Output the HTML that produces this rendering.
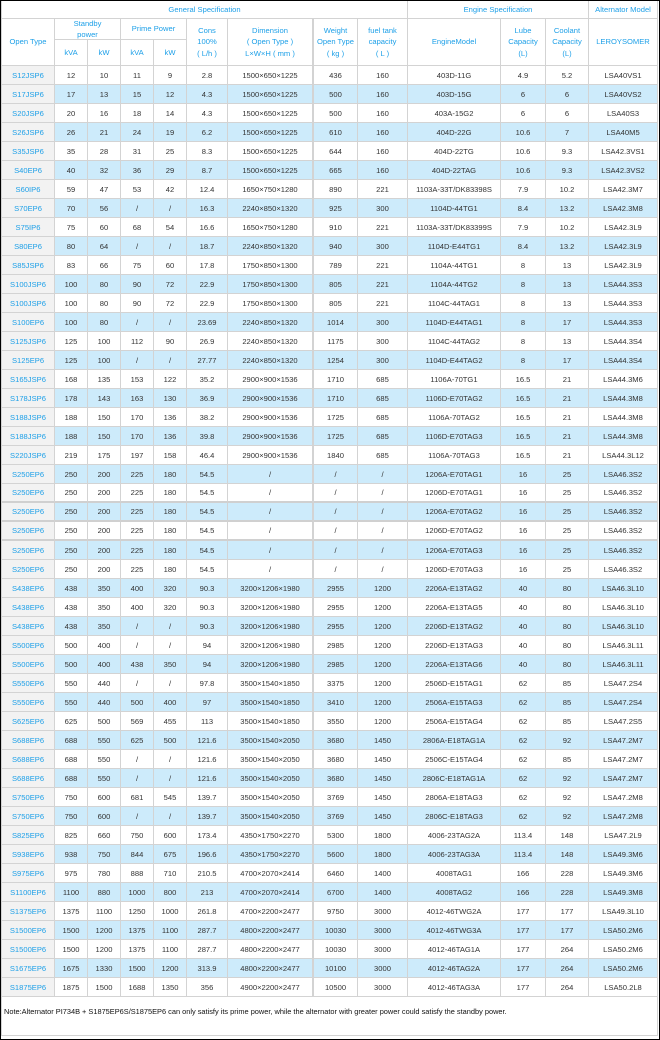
<!DOCTYPE html>
<html><head><meta charset="utf-8"><style>
html,body{margin:0;padding:0;background:#fff}
.o{position:relative;width:660px;height:1040px;box-sizing:border-box;border:1px solid #000;background:#fff;overflow:hidden;font-family:"Liberation Sans",Arial,sans-serif;font-size:7.6px;color:#333}
.g{position:absolute;left:0;top:0;display:grid;grid-template-columns:53px 33px 33px 33px 33px 41px 86px 44px 50px 93px 45px 43px 69px;grid-template-rows:18px 21px 26px repeat(49,19px) 39px;border-left:1px solid #d3d3d3}
.g .r{display:contents}
.g i{font-style:normal;box-sizing:border-box;border-right:1px solid #d3d3d3;border-bottom:1px solid #d3d3d3;display:flex;align-items:center;justify-content:center;text-align:center;white-space:nowrap;overflow:hidden;background:#fff}
.g .b i{background:#cdebfb}
.g .r i:first-child{background:#f2f2f2;color:#1ea0e8}
.g .r i:nth-child(7){border-right:2px solid #d3d3d3}
.g .h{color:#1ea0e8;line-height:11.5px}
.g .h b{font-weight:normal;display:block}
.g .t i{border-bottom:2px solid #d0d0d0}
.g .n{grid-column:1/14;justify-content:flex-start;align-items:flex-start;padding:10px 0 0 2px;color:#111;font-size:7.4px;line-height:9px}
</style></head><body><div class="o"><div class="g">
<i class="h" style="grid-column:1/10;grid-row:1">General Specification</i>
<i class="h" style="grid-column:10/13;grid-row:1">Engine Specification</i>
<i class="h" style="grid-column:13;grid-row:1">Alternator Model</i>
<i class="h" style="grid-column:1;grid-row:2/4">Open Type</i>
<i class="h" style="grid-column:2/4;grid-row:2"><b>Standby<br>power</b></i>
<i class="h" style="grid-column:4/6;grid-row:2">Prime Power</i>
<i class="h" style="grid-column:6;grid-row:2/4"><b>Cons<br>100%<br>( L/h )</b></i>
<i class="h" style="grid-column:7;grid-row:2/4;border-right:2px solid #d3d3d3"><b>Dimension<br>( Open Type )<br>L×W×H ( mm )</b></i>
<i class="h" style="grid-column:8;grid-row:2/4"><b>Weight<br>Open Type<br>( kg )</b></i>
<i class="h" style="grid-column:9;grid-row:2/4"><b>fuel tank<br>capacity<br>( L )</b></i>
<i class="h" style="grid-column:10;grid-row:2/4">EngineModel</i>
<i class="h" style="grid-column:11;grid-row:2/4"><b>Lube<br>Capacity<br>(L)</b></i>
<i class="h" style="grid-column:12;grid-row:2/4"><b>Coolant<br>Capacity<br>(L)</b></i>
<i class="h" style="grid-column:13;grid-row:2/4">LEROYSOMER</i>
<i class="h" style="grid-column:2;grid-row:3">kVA</i>
<i class="h" style="grid-column:3;grid-row:3">kW</i>
<i class="h" style="grid-column:4;grid-row:3">kVA</i>
<i class="h" style="grid-column:5;grid-row:3">kW</i>

<div class="r"><i>S12JSP6</i><i>12</i><i>10</i><i>11</i><i>9</i><i>2.8</i><i>1500×650×1225</i><i>436</i><i>160</i><i>403D-11G</i><i>4.9</i><i>5.2</i><i>LSA40VS1</i></div>
<div class="r b"><i>S17JSP6</i><i>17</i><i>13</i><i>15</i><i>12</i><i>4.3</i><i>1500×650×1225</i><i>500</i><i>160</i><i>403D-15G</i><i>6</i><i>6</i><i>LSA40VS2</i></div>
<div class="r"><i>S20JSP6</i><i>20</i><i>16</i><i>18</i><i>14</i><i>4.3</i><i>1500×650×1225</i><i>500</i><i>160</i><i>403A-15G2</i><i>6</i><i>6</i><i>LSA40S3</i></div>
<div class="r b"><i>S26JSP6</i><i>26</i><i>21</i><i>24</i><i>19</i><i>6.2</i><i>1500×650×1225</i><i>610</i><i>160</i><i>404D-22G</i><i>10.6</i><i>7</i><i>LSA40M5</i></div>
<div class="r"><i>S35JSP6</i><i>35</i><i>28</i><i>31</i><i>25</i><i>8.3</i><i>1500×650×1225</i><i>644</i><i>160</i><i>404D-22TG</i><i>10.6</i><i>9.3</i><i>LSA42.3VS1</i></div>
<div class="r b"><i>S40EP6</i><i>40</i><i>32</i><i>36</i><i>29</i><i>8.7</i><i>1500×650×1225</i><i>665</i><i>160</i><i>404D-22TAG</i><i>10.6</i><i>9.3</i><i>LSA42.3VS2</i></div>
<div class="r"><i>S60IP6</i><i>59</i><i>47</i><i>53</i><i>42</i><i>12.4</i><i>1650×750×1280</i><i>890</i><i>221</i><i>1103A-33T/DK83398S</i><i>7.9</i><i>10.2</i><i>LSA42.3M7</i></div>
<div class="r b"><i>S70EP6</i><i>70</i><i>56</i><i>/</i><i>/</i><i>16.3</i><i>2240×850×1320</i><i>925</i><i>300</i><i>1104D-44TG1</i><i>8.4</i><i>13.2</i><i>LSA42.3M8</i></div>
<div class="r"><i>S75IP6</i><i>75</i><i>60</i><i>68</i><i>54</i><i>16.6</i><i>1650×750×1280</i><i>910</i><i>221</i><i>1103A-33T/DK83399S</i><i>7.9</i><i>10.2</i><i>LSA42.3L9</i></div>
<div class="r b"><i>S80EP6</i><i>80</i><i>64</i><i>/</i><i>/</i><i>18.7</i><i>2240×850×1320</i><i>940</i><i>300</i><i>1104D-E44TG1</i><i>8.4</i><i>13.2</i><i>LSA42.3L9</i></div>
<div class="r"><i>S85JSP6</i><i>83</i><i>66</i><i>75</i><i>60</i><i>17.8</i><i>1750×850×1300</i><i>789</i><i>221</i><i>1104A-44TG1</i><i>8</i><i>13</i><i>LSA42.3L9</i></div>
<div class="r b"><i>S100JSP6</i><i>100</i><i>80</i><i>90</i><i>72</i><i>22.9</i><i>1750×850×1300</i><i>805</i><i>221</i><i>1104A-44TG2</i><i>8</i><i>13</i><i>LSA44.3S3</i></div>
<div class="r"><i>S100JSP6</i><i>100</i><i>80</i><i>90</i><i>72</i><i>22.9</i><i>1750×850×1300</i><i>805</i><i>221</i><i>1104C-44TAG1</i><i>8</i><i>13</i><i>LSA44.3S3</i></div>
<div class="r b"><i>S100EP6</i><i>100</i><i>80</i><i>/</i><i>/</i><i>23.69</i><i>2240×850×1320</i><i>1014</i><i>300</i><i>1104D-E44TAG1</i><i>8</i><i>17</i><i>LSA44.3S3</i></div>
<div class="r"><i>S125JSP6</i><i>125</i><i>100</i><i>112</i><i>90</i><i>26.9</i><i>2240×850×1320</i><i>1175</i><i>300</i><i>1104C-44TAG2</i><i>8</i><i>13</i><i>LSA44.3S4</i></div>
<div class="r b"><i>S125EP6</i><i>125</i><i>100</i><i>/</i><i>/</i><i>27.77</i><i>2240×850×1320</i><i>1254</i><i>300</i><i>1104D-E44TAG2</i><i>8</i><i>17</i><i>LSA44.3S4</i></div>
<div class="r"><i>S165JSP6</i><i>168</i><i>135</i><i>153</i><i>122</i><i>35.2</i><i>2900×900×1536</i><i>1710</i><i>685</i><i>1106A-70TG1</i><i>16.5</i><i>21</i><i>LSA44.3M6</i></div>
<div class="r b"><i>S178JSP6</i><i>178</i><i>143</i><i>163</i><i>130</i><i>36.9</i><i>2900×900×1536</i><i>1710</i><i>685</i><i>1106D-E70TAG2</i><i>16.5</i><i>21</i><i>LSA44.3M8</i></div>
<div class="r"><i>S188JSP6</i><i>188</i><i>150</i><i>170</i><i>136</i><i>38.2</i><i>2900×900×1536</i><i>1725</i><i>685</i><i>1106A-70TAG2</i><i>16.5</i><i>21</i><i>LSA44.3M8</i></div>
<div class="r b"><i>S188JSP6</i><i>188</i><i>150</i><i>170</i><i>136</i><i>39.8</i><i>2900×900×1536</i><i>1725</i><i>685</i><i>1106D-E70TAG3</i><i>16.5</i><i>21</i><i>LSA44.3M8</i></div>
<div class="r"><i>S220JSP6</i><i>219</i><i>175</i><i>197</i><i>158</i><i>46.4</i><i>2900×900×1536</i><i>1840</i><i>685</i><i>1106A-70TAG3</i><i>16.5</i><i>21</i><i>LSA44.3L12</i></div>
<div class="r b"><i>S250EP6</i><i>250</i><i>200</i><i>225</i><i>180</i><i>54.5</i><i>/</i><i>/</i><i>/</i><i>1206A-E70TAG1</i><i>16</i><i>25</i><i>LSA46.3S2</i></div>
<div class="r t"><i>S250EP6</i><i>250</i><i>200</i><i>225</i><i>180</i><i>54.5</i><i>/</i><i>/</i><i>/</i><i>1206D-E70TAG1</i><i>16</i><i>25</i><i>LSA46.3S2</i></div>
<div class="r b t"><i>S250EP6</i><i>250</i><i>200</i><i>225</i><i>180</i><i>54.5</i><i>/</i><i>/</i><i>/</i><i>1206A-E70TAG2</i><i>16</i><i>25</i><i>LSA46.3S2</i></div>
<div class="r t"><i>S250EP6</i><i>250</i><i>200</i><i>225</i><i>180</i><i>54.5</i><i>/</i><i>/</i><i>/</i><i>1206D-E70TAG2</i><i>16</i><i>25</i><i>LSA46.3S2</i></div>
<div class="r b"><i>S250EP6</i><i>250</i><i>200</i><i>225</i><i>180</i><i>54.5</i><i>/</i><i>/</i><i>/</i><i>1206A-E70TAG3</i><i>16</i><i>25</i><i>LSA46.3S2</i></div>
<div class="r"><i>S250EP6</i><i>250</i><i>200</i><i>225</i><i>180</i><i>54.5</i><i>/</i><i>/</i><i>/</i><i>1206D-E70TAG3</i><i>16</i><i>25</i><i>LSA46.3S2</i></div>
<div class="r b"><i>S438EP6</i><i>438</i><i>350</i><i>400</i><i>320</i><i>90.3</i><i>3200×1206×1980</i><i>2955</i><i>1200</i><i>2206A-E13TAG2</i><i>40</i><i>80</i><i>LSA46.3L10</i></div>
<div class="r"><i>S438EP6</i><i>438</i><i>350</i><i>400</i><i>320</i><i>90.3</i><i>3200×1206×1980</i><i>2955</i><i>1200</i><i>2206A-E13TAG5</i><i>40</i><i>80</i><i>LSA46.3L10</i></div>
<div class="r b"><i>S438EP6</i><i>438</i><i>350</i><i>/</i><i>/</i><i>90.3</i><i>3200×1206×1980</i><i>2955</i><i>1200</i><i>2206D-E13TAG2</i><i>40</i><i>80</i><i>LSA46.3L10</i></div>
<div class="r"><i>S500EP6</i><i>500</i><i>400</i><i>/</i><i>/</i><i>94</i><i>3200×1206×1980</i><i>2985</i><i>1200</i><i>2206D-E13TAG3</i><i>40</i><i>80</i><i>LSA46.3L11</i></div>
<div class="r b"><i>S500EP6</i><i>500</i><i>400</i><i>438</i><i>350</i><i>94</i><i>3200×1206×1980</i><i>2985</i><i>1200</i><i>2206A-E13TAG6</i><i>40</i><i>80</i><i>LSA46.3L11</i></div>
<div class="r"><i>S550EP6</i><i>550</i><i>440</i><i>/</i><i>/</i><i>97.8</i><i>3500×1540×1850</i><i>3375</i><i>1200</i><i>2506D-E15TAG1</i><i>62</i><i>85</i><i>LSA47.2S4</i></div>
<div class="r b"><i>S550EP6</i><i>550</i><i>440</i><i>500</i><i>400</i><i>97</i><i>3500×1540×1850</i><i>3410</i><i>1200</i><i>2506A-E15TAG3</i><i>62</i><i>85</i><i>LSA47.2S4</i></div>
<div class="r"><i>S625EP6</i><i>625</i><i>500</i><i>569</i><i>455</i><i>113</i><i>3500×1540×1850</i><i>3550</i><i>1200</i><i>2506A-E15TAG4</i><i>62</i><i>85</i><i>LSA47.2S5</i></div>
<div class="r b"><i>S688EP6</i><i>688</i><i>550</i><i>625</i><i>500</i><i>121.6</i><i>3500×1540×2050</i><i>3680</i><i>1450</i><i>2806A-E18TAG1A</i><i>62</i><i>92</i><i>LSA47.2M7</i></div>
<div class="r"><i>S688EP6</i><i>688</i><i>550</i><i>/</i><i>/</i><i>121.6</i><i>3500×1540×2050</i><i>3680</i><i>1450</i><i>2506C-E15TAG4</i><i>62</i><i>85</i><i>LSA47.2M7</i></div>
<div class="r b"><i>S688EP6</i><i>688</i><i>550</i><i>/</i><i>/</i><i>121.6</i><i>3500×1540×2050</i><i>3680</i><i>1450</i><i>2806C-E18TAG1A</i><i>62</i><i>92</i><i>LSA47.2M7</i></div>
<div class="r"><i>S750EP6</i><i>750</i><i>600</i><i>681</i><i>545</i><i>139.7</i><i>3500×1540×2050</i><i>3769</i><i>1450</i><i>2806A-E18TAG3</i><i>62</i><i>92</i><i>LSA47.2M8</i></div>
<div class="r b"><i>S750EP6</i><i>750</i><i>600</i><i>/</i><i>/</i><i>139.7</i><i>3500×1540×2050</i><i>3769</i><i>1450</i><i>2806C-E18TAG3</i><i>62</i><i>92</i><i>LSA47.2M8</i></div>
<div class="r"><i>S825EP6</i><i>825</i><i>660</i><i>750</i><i>600</i><i>173.4</i><i>4350×1750×2270</i><i>5300</i><i>1800</i><i>4006-23TAG2A</i><i>113.4</i><i>148</i><i>LSA47.2L9</i></div>
<div class="r b"><i>S938EP6</i><i>938</i><i>750</i><i>844</i><i>675</i><i>196.6</i><i>4350×1750×2270</i><i>5600</i><i>1800</i><i>4006-23TAG3A</i><i>113.4</i><i>148</i><i>LSA49.3M6</i></div>
<div class="r"><i>S975EP6</i><i>975</i><i>780</i><i>888</i><i>710</i><i>210.5</i><i>4700×2070×2414</i><i>6460</i><i>1400</i><i>4008TAG1</i><i>166</i><i>228</i><i>LSA49.3M6</i></div>
<div class="r b"><i>S1100EP6</i><i>1100</i><i>880</i><i>1000</i><i>800</i><i>213</i><i>4700×2070×2414</i><i>6700</i><i>1400</i><i>4008TAG2</i><i>166</i><i>228</i><i>LSA49.3M8</i></div>
<div class="r"><i>S1375EP6</i><i>1375</i><i>1100</i><i>1250</i><i>1000</i><i>261.8</i><i>4700×2200×2477</i><i>9750</i><i>3000</i><i>4012-46TWG2A</i><i>177</i><i>177</i><i>LSA49.3L10</i></div>
<div class="r b"><i>S1500EP6</i><i>1500</i><i>1200</i><i>1375</i><i>1100</i><i>287.7</i><i>4800×2200×2477</i><i>10030</i><i>3000</i><i>4012-46TWG3A</i><i>177</i><i>177</i><i>LSA50.2M6</i></div>
<div class="r"><i>S1500EP6</i><i>1500</i><i>1200</i><i>1375</i><i>1100</i><i>287.7</i><i>4800×2200×2477</i><i>10030</i><i>3000</i><i>4012-46TAG1A</i><i>177</i><i>264</i><i>LSA50.2M6</i></div>
<div class="r b"><i>S1675EP6</i><i>1675</i><i>1330</i><i>1500</i><i>1200</i><i>313.9</i><i>4800×2200×2477</i><i>10100</i><i>3000</i><i>4012-46TAG2A</i><i>177</i><i>264</i><i>LSA50.2M6</i></div>
<div class="r"><i>S1875EP6</i><i>1875</i><i>1500</i><i>1688</i><i>1350</i><i>356</i><i>4900×2200×2477</i><i>10500</i><i>3000</i><i>4012-46TAG3A</i><i>177</i><i>264</i><i>LSA50.2L8</i></div>
<i class="n">Note:Alternator PI734B + S1875EP6S/S1875EP6 can only satisfy its prime power, while the alternator with greater power could satisfy the standby power.</i>
</div></div></body></html>
